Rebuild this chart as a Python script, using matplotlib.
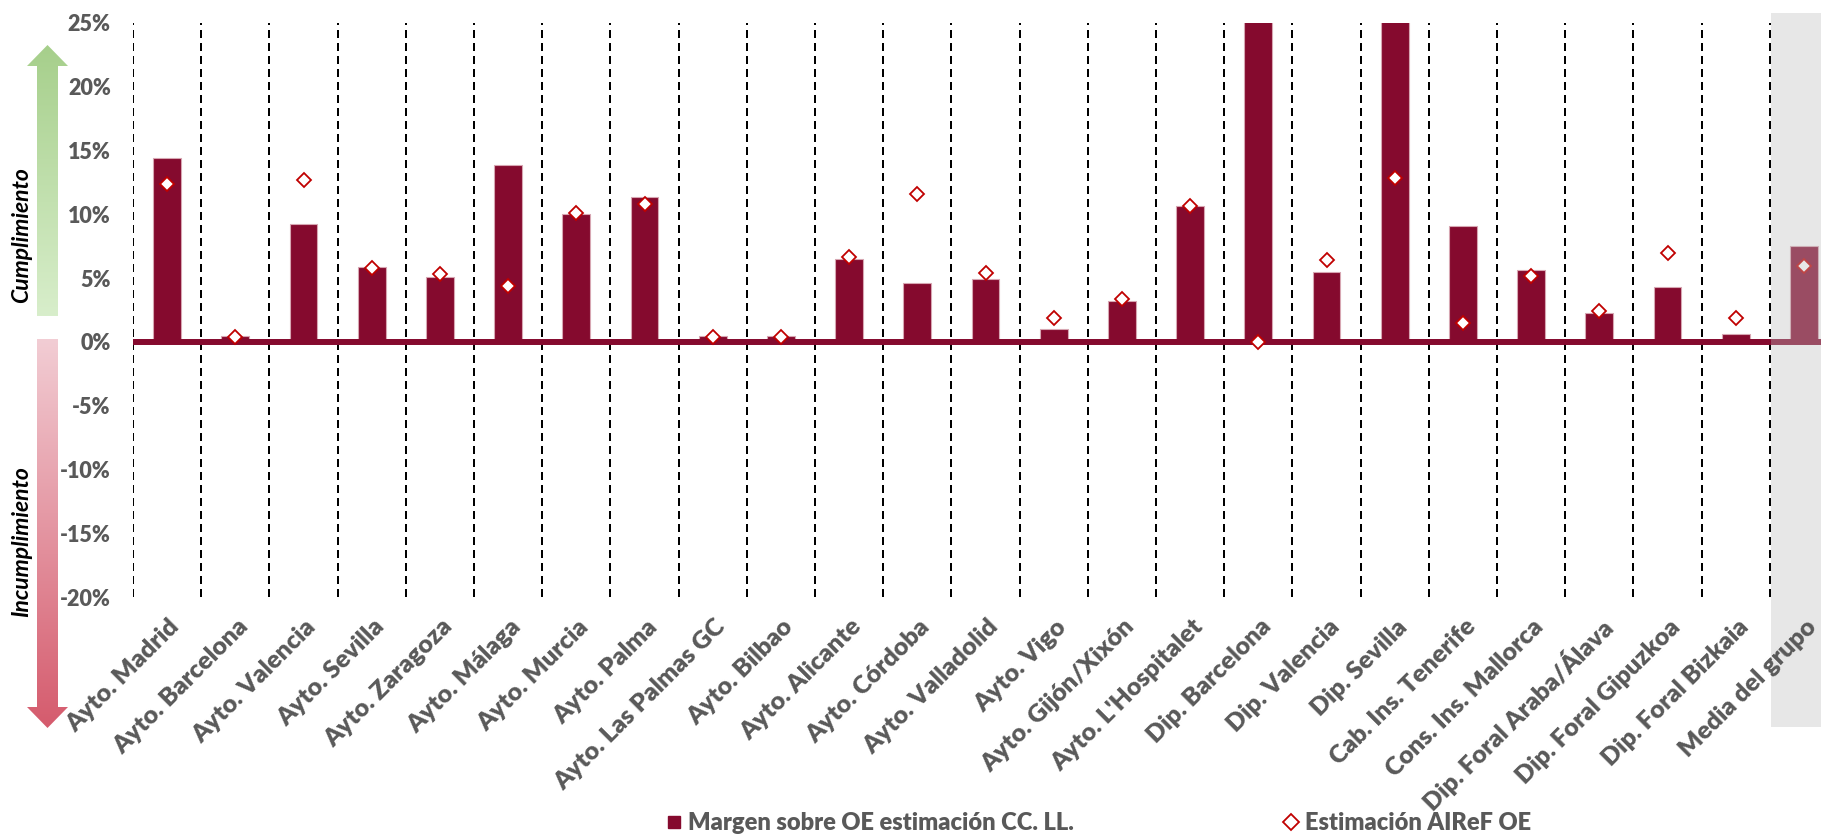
import matplotlib
matplotlib.use("Agg")
import matplotlib.pyplot as plt
import numpy as np
from matplotlib.patches import Rectangle, Polygon
from matplotlib.lines import Line2D
from matplotlib.transforms import ScaledTranslation
from matplotlib.colors import LinearSegmentedColormap

plt.rcParams['font.family'] = ['Lato', 'DejaVu Sans']

categories = ["Ayto. Madrid", "Ayto. Barcelona", "Ayto. Valencia", "Ayto. Sevilla",
              "Ayto. Zaragoza", "Ayto. Málaga", "Ayto. Murcia", "Ayto. Palma",
              "Ayto. Las Palmas GC", "Ayto. Bilbao", "Ayto. Alicante", "Ayto. Córdoba",
              "Ayto. Valladolid", "Ayto. Vigo", "Ayto. Gijón/Xixón", "Ayto. L'Hospitalet",
              "Dip. Barcelona", "Dip. Valencia", "Dip. Sevilla", "Cab. Ins. Tenerife",
              "Cons. Ins. Mallorca", "Dip. Foral Araba/Álava", "Dip. Foral Gipuzkoa",
              "Dip. Foral Bizkaia", "Media del grupo"]

margen_ccll = [14.4, 0.5, 9.25, 5.85, 5.1, 13.85, 10.05, 11.35, 0.5, 0.5, 6.5, 4.65,
               4.9, 1.0, 3.2, 10.65, 30.0, 5.45, 28.0, 9.1, 5.6, 2.3, 4.3, 0.6, 7.55]

airef_oe = [12.35, 0.35, 12.7, 5.8, 5.3, 4.35, 10.1, 10.8, 0.35, 0.35, 6.65, 11.6,
            5.4, 1.9, 3.4, 10.65, 0.0, 6.45, 12.85, 1.5, 5.15, 2.45, 7.0, 1.9, 5.95]

yticks = [-20, -15, -10, -5, 0, 5, 10, 15, 20, 25]
ytick_labels = ["-20%", "-15%", "-10%", "-5%", "0%", "5%", "10%", "15%", "20%", "25%"]

legend_labels = ["Margen sobre OE estimación CC. LL.", "Estimación AIReF OE"]
arrow_labels = ["Cumplimiento", "Incumplimiento"]

BAR = "#850A2E"
GRAY_TXT = "#595959"
W, H = 1821, 836

fig = plt.figure(figsize=(W / 100, H / 100), dpi=100)
fig.patch.set_facecolor("white")

def px(x0, y0, x1, y1):
    """pixel box (top-left origin) -> figure fraction rect"""
    return [x0 / W, (H - y1) / H, (x1 - x0) / W, (y1 - y0) / H]

n = len(categories)
ax = fig.add_axes(px(133, 23, 133 + 68.2 * n, 597))
ax.set_facecolor("none")
x = np.arange(n)

# dashed separators
ax.vlines(np.arange(n) - 0.5, -20, 25, colors="black", linewidth=1.44,
          linestyles=(0, (4, 2.5)), zorder=1)

ax.bar(x, margen_ccll, width=0.41, color=BAR, edgecolor="#D7A6B2",
       linewidth=0.8, zorder=2)
ax.axhline(0, color=BAR, linewidth=4.3, zorder=3)
ax.plot(x, airef_oe, linestyle="none", marker="D", markersize=7.5,
        markerfacecolor="white", markeredgecolor="#C00000", markeredgewidth=1.3,
        zorder=4)

ax.set_xlim(-0.5, n - 0.5)
ax.set_ylim(-20, 25)
for s in ax.spines.values():
    s.set_visible(False)

ax.set_yticks(yticks)
ax.set_yticklabels(ytick_labels, fontsize=15.5, fontweight="heavy", color=GRAY_TXT)
ax.tick_params(axis="y", length=0, pad=16)

ax.set_xticks(x)
ax.set_xticklabels(categories, rotation=45, ha="right", va="center",
                   rotation_mode="anchor", fontsize=18, fontweight="heavy",
                   color=GRAY_TXT)
ax.tick_params(axis="x", length=0, pad=19)
off = ScaledTranslation(9 / 100, 0, fig.dpi_scale_trans)
for lab in ax.get_xticklabels():
    lab.set_transform(lab.get_transform() + off)
ax.xaxis.set_zorder(6)

# gray highlight over "Media del grupo"
r = px(1771, 13, 1900, 727)
ax.add_artist(Rectangle((r[0], r[1]), r[2], r[3], transform=fig.transFigure,
                        facecolor=(0.75, 0.75, 0.75), alpha=0.37, edgecolor="none",
                        zorder=5, clip_on=False))

# overlay axes in pixel coordinates for arrows
ov = fig.add_axes([0, 0, 1, 1], zorder=-1)
ov.set_xlim(0, W)
ov.set_ylim(H, 0)
ov.axis("off")

def grad_arrow(pts, ytop, ybot, ctop, cbot):
    poly = Polygon(pts, closed=True, facecolor="none", edgecolor="none")
    ov.add_patch(poly)
    cmap = LinearSegmentedColormap.from_list("g", [ctop, cbot])
    grad = np.linspace(0, 1, 256).reshape(-1, 1)
    im = ov.imshow(grad, cmap=cmap, extent=(20, 75, ybot, ytop), aspect="auto",
                   origin="upper", interpolation="bilinear")
    im.set_clip_path(poly)

grad_arrow([(37, 316), (37, 66), (27, 66), (47.5, 45), (68, 66), (58, 66), (58, 316)],
           45, 316, "#A6CF8B", "#D8EECB")
grad_arrow([(37, 339), (37, 707), (27, 707), (47.5, 728), (68, 707), (58, 707), (58, 339)],
           339, 728, "#F2CDD4", "#D55B6D")
ov.set_xlim(0, W)
ov.set_ylim(H, 0)

fig.text(22 / W, 1 - 235 / H, arrow_labels[0], rotation=90, ha="center", va="center",
         fontsize=16.5, fontweight="bold", fontstyle="italic", color="black")
fig.text(22 / W, 1 - 542 / H, arrow_labels[1], rotation=90, ha="center", va="center",
         fontsize=16.5, fontweight="bold", fontstyle="italic", color="black")

handles = [Line2D([], [], linestyle="none", marker="s", markersize=9,
                  markerfacecolor=BAR, markeredgecolor=BAR),
           Line2D([], [], linestyle="none", marker="D", markersize=8,
                  markerfacecolor="white", markeredgecolor="#C00000", markeredgewidth=1.3)]
leg = fig.legend(handles, legend_labels, loc="center", bbox_to_anchor=(1099 / W, 1 - 823 / H),
                 ncol=2, frameon=False, handlelength=0.6, handletextpad=0.3,
                 columnspacing=8.9, prop={"size": 17, "weight": "heavy"})
for t in leg.get_texts():
    t.set_color(GRAY_TXT)

fig.savefig("out.png", dpi=100, facecolor="white")
